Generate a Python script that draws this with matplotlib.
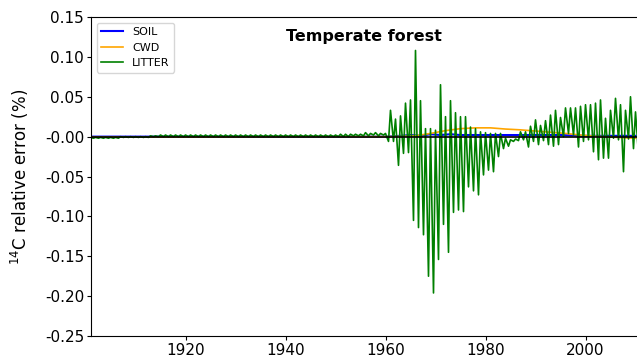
import numpy as np
import matplotlib
matplotlib.use("Agg")
import matplotlib.pyplot as plt

# yearly litter extremes (peak near start of year, trough ~0.6 later)
years = np.arange(1901, 2011)
litter_peak = [
    -0.001, -0.001, -0.001, -0.001, -0.001, -0.001, 0.000, 0.000, 0.000, 0.000,   # 1901-1910
    0.000, 0.000, 0.001, 0.001, 0.002, 0.002, 0.002, 0.002, 0.002, 0.002,         # 1911-1920
    0.002, 0.002, 0.002, 0.002, 0.002, 0.002, 0.002, 0.002, 0.002, 0.002,         # 1921-1930
    0.002, 0.002, 0.002, 0.002, 0.002, 0.002, 0.002, 0.002, 0.002, 0.002,         # 1931-1940
    0.002, 0.002, 0.002, 0.002, 0.002, 0.002, 0.002, 0.002, 0.002, 0.002,         # 1941-1950
    0.003, 0.003, 0.003, 0.003, 0.003, 0.005, 0.004, 0.005, 0.004, 0.004,         # 1951-1960
    0.033, 0.022, 0.026, 0.042, 0.046, 0.108, 0.045, 0.010, 0.010, 0.008,         # 1961-1970
    0.065, 0.025, 0.045, 0.030, 0.025, 0.025, 0.012, 0.010, 0.006, 0.005,         # 1971-1980
    0.004, 0.004, 0.004, -0.002, -0.004, -0.003, 0.006, 0.006, 0.013, 0.021,      # 1981-1990
    0.014, 0.020, 0.027, 0.033, 0.024, 0.036, 0.036, 0.036, 0.038, 0.040,         # 1991-2000
    0.040, 0.042, 0.046, 0.023, 0.033, 0.048, 0.040, 0.033, 0.050, 0.031,         # 2001-2010
]
litter_trough = [
    -0.002, -0.002, -0.002, -0.002, -0.002, -0.002, -0.001, -0.001, -0.001, -0.001,
    -0.001, -0.001, 0.000, 0.000, 0.000, 0.000, 0.000, 0.000, 0.000, 0.000,
    0.000, 0.000, 0.000, 0.000, 0.000, 0.000, 0.000, 0.000, 0.000, 0.000,
    0.000, 0.000, 0.000, 0.000, 0.000, 0.000, 0.000, 0.000, 0.000, 0.000,
    0.000, 0.000, 0.000, 0.000, 0.000, 0.000, 0.000, 0.000, 0.000, 0.000,
    0.000, 0.000, 0.001, 0.001, 0.001, 0.001, 0.002, 0.001, 0.002, -0.006,
    -0.006, -0.036, -0.021, -0.020, -0.105, -0.114, -0.123, -0.175, -0.196, -0.154,
    -0.110, -0.145, -0.095, -0.092, -0.094, -0.063, -0.068, -0.073, -0.048, -0.042,
    -0.044, -0.025, -0.015, -0.012, -0.006, -0.005, -0.004, -0.013, -0.006, -0.010,
    -0.005, -0.010, -0.012, -0.010, 0.000, 0.004, 0.002, -0.013, -0.006, -0.004,
    -0.019, -0.029, -0.027, -0.027, -0.002, -0.004, -0.044, -0.003, -0.015, -0.022,
]

soil_years = [1901, 1940, 1960, 1963, 1965, 1967, 1969, 1971, 1973, 1975, 1977,
              1979, 1982, 1986, 1990, 1995, 2000, 2005, 2010]
soil_vals = [0.000, 0.000, 0.000, 0.001, 0.002, 0.001, 0.003, 0.002, 0.003, 0.002, 0.002,
             0.002, 0.002, 0.002, 0.002, 0.002, 0.001, 0.001, 0.001]

cwd_years = [1901, 1920, 1940, 1955, 1960, 1963, 1966, 1969, 1972, 1975, 1978, 1981,
             1984, 1987, 1990, 1993, 1996, 1999, 2002, 2005, 2008, 2010]
cwd_vals = [-0.0005, -0.0005, 0.000, 0.000, 0.000, 0.0003, 0.001, 0.004, 0.0075, 0.010, 0.011, 0.011,
            0.0095, 0.0085, 0.007, 0.0055, 0.004, 0.002, 0.0005, -0.0005, -0.0015, -0.002]

t = np.column_stack([years, years + 0.6]).ravel()
litter = np.column_stack([litter_peak, litter_trough]).ravel()

fig = plt.figure(figsize=(6.37, 3.58), dpi=100)
ax = fig.add_axes([91 / 637, 22 / 358, 1 - 91 / 637, 319 / 358])

ax.plot(soil_years, soil_vals, color="blue", lw=1.5, label="SOIL")
ax.plot(cwd_years, cwd_vals, color="orange", lw=1.2, label="CWD")
ax.plot(t, litter, color="green", lw=1.2, label="LITTER")
ax.axhline(0, color="black", lw=1.2, zorder=5)

ax.set_xlim(1901.1, 2010.3)
ax.set_ylim(-0.25, 0.15)
ax.set_xticks([1920, 1940, 1960, 1980, 2000])
ax.set_yticks(np.arange(-0.25, 0.151, 0.05))
ax.yaxis.set_major_formatter(matplotlib.ticker.FormatStrFormatter("%.2f"))
ax.tick_params(labelsize=11, length=3, pad=2)
ax.spines["right"].set_visible(False)
ax.set_ylabel("$^{14}$C relative error (%)", fontsize=12, labelpad=10)

ax.text(0.5, 0.94, "Temperate forest", transform=ax.transAxes, ha="center",
        va="center", fontsize=11.5, fontweight="bold")
ax.legend(loc="upper left", fontsize=8)

fig.savefig("out.png", dpi=100)
